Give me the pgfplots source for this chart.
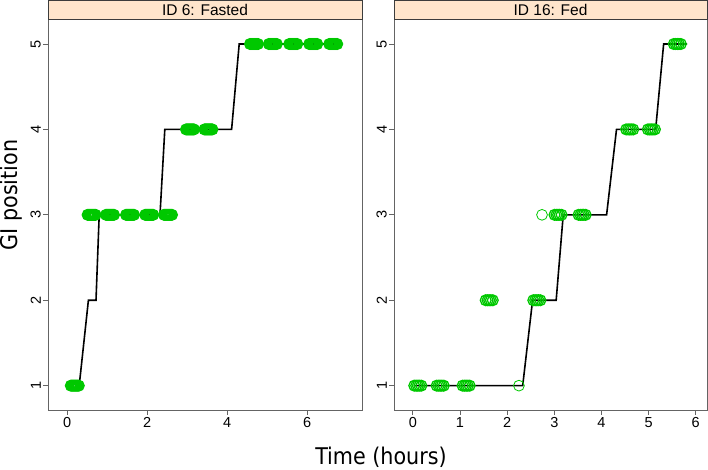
\documentclass[border=0pt]{standalone}
\usepackage{fontspec}
\setmainfont{Liberation Sans}
\newfontfamily\titlefont{DejaVu Sans Condensed}
\usepackage{pgfplots}
\pgfplotsset{compat=1.18}
\definecolor{ptgreen}{RGB}{0,200,0}
\definecolor{stripbg}{RGB}{255,229,204}
\definecolor{framecol}{RGB}{100,100,100}
\definecolor{stripcol}{RGB}{60,60,60}
\pgfplotsset{panel/.style={
  scale only axis, height=390.5pt,
  ymin=0.715, ymax=5.287, ytick={1,2,3,4,5},
  axis line style={framecol, line width=0.8pt},
  tick style={framecol, line width=0.8pt},
  tick align=outside, major tick length=5pt,
  xtick pos=bottom, ytick pos=left,
  yticklabel style={rotate=90, anchor=south, inner sep=2pt, font=\fontsize{14.5}{14.5}\selectfont},
  xticklabel style={inner sep=2pt, font=\fontsize{14.5}{14.5}\selectfont},
  /pgf/number format/assume math mode=true,
}}
\begin{document}
\begin{tikzpicture}
\path[use as bounding box] (-48pt,-60pt) rectangle (660pt,410pt);
\begin{axis}[panel, name=left, at={(0pt,0pt)}, anchor=south west, width=314pt,
  xmin=-0.48, xmax=7.37, xtick={0,2,4,6}]
\addplot[black, line width=1.6pt] coordinates {(0.19,1) (0.30,1) (0.53,2) (0.72,2) (0.80,3) (2.32,3) (2.44,4) (4.11,4) (4.30,5) (6.72,5)};
\addplot[only marks, mark=o, mark size=5.2pt, mark options={ptgreen, line width=1.6pt}] table {
x y
0.09 1
0.115 1
0.14 1
0.165 1
0.19 1
0.215 1
0.24 1
0.265 1
0.29 1
0.51 3
0.535 3
0.56 3
0.585 3
0.61 3
0.635 3
0.66 3
0.685 3
0.71 3
0.97 3
0.995 3
1.02 3
1.045 3
1.07 3
1.095 3
1.12 3
1.145 3
1.17 3
1.47 3
1.495 3
1.52 3
1.545 3
1.57 3
1.595 3
1.62 3
1.645 3
1.67 3
1.95 3
1.975 3
2.00 3
2.025 3
2.05 3
2.075 3
2.10 3
2.125 3
2.15 3
2.42 3
2.445 3
2.47 3
2.495 3
2.52 3
2.545 3
2.57 3
2.595 3
2.62 3
2.97 4
2.995 4
3.02 4
3.045 4
3.07 4
3.095 4
3.12 4
3.145 4
3.17 4
3.43 4
3.455 4
3.48 4
3.505 4
3.53 4
3.555 4
3.58 4
3.605 4
3.63 4
4.57 5
4.595 5
4.62 5
4.645 5
4.67 5
4.695 5
4.72 5
4.745 5
4.77 5
5.04 5
5.065 5
5.09 5
5.115 5
5.14 5
5.165 5
5.19 5
5.215 5
5.24 5
5.55 5
5.575 5
5.60 5
5.625 5
5.65 5
5.675 5
5.70 5
5.725 5
5.75 5
6.05 5
6.075 5
6.10 5
6.125 5
6.15 5
6.175 5
6.20 5
6.225 5
6.25 5
6.55 5
6.575 5
6.60 5
6.625 5
6.65 5
6.675 5
6.70 5
6.725 5
6.75 5
};
\end{axis}
\begin{axis}[panel, name=right, at={(346pt,0pt)}, anchor=south west, width=313pt,
  xmin=-0.40, xmax=6.24, xtick={0,1,2,3,4,5,6}]
\addplot[black, line width=1.6pt] coordinates {(0.03,1) (2.33,1) (2.54,2) (3.04,2) (3.19,3) (4.11,3) (4.32,4) (5.15,4) (5.32,5) (5.82,5)};
\addplot[only marks, mark=o, mark size=5.4pt, mark options={ptgreen, line width=1.3pt}] table {
x y
0.03 1
0.07 1
0.105 1
0.14 1
0.18 1
0.505 1
0.545 1
0.58 1
0.615 1
0.655 1
1.055 1
1.095 1
1.13 1
1.165 1
1.205 1
1.545 2
1.585 2
1.62 2
1.655 2
1.695 2
2.555 2
2.595 2
2.63 2
2.665 2
2.705 2
3.005 3
3.045 3
3.08 3
3.115 3
3.155 3
3.515 3
3.555 3
3.59 3
3.625 3
3.665 3
4.525 4
4.565 4
4.60 4
4.635 4
4.675 4
4.985 4
5.025 4
5.06 4
5.095 4
5.135 4
5.535 5
5.575 5
5.61 5
5.645 5
5.685 5
};
\addplot[only marks, mark=o, mark size=5.4pt, mark options={ptgreen, line width=0.8pt}] coordinates {(2.25,1) (2.74,3)};
\end{axis}
\draw[draw=stripcol, fill=stripbg, line width=0.8pt] (left.north west) rectangle ++(314pt,19.5pt);
\draw[draw=stripcol, fill=stripbg, line width=0.8pt] (right.north west) rectangle ++(313pt,19.5pt);
\node[font=\fontsize{15.5}{15.5}\selectfont] at ([yshift=9.75pt]left.north) {ID 6: Fasted};
\node[font=\fontsize{15.5}{15.5}\selectfont] at ([yshift=9.75pt]right.north) {ID 16: Fed};
\node[font=\titlefont\fontsize{23}{23}\selectfont, anchor=base] at (333pt,-55pt) {Time (hours)};
\node[font=\titlefont\fontsize{23}{23}\selectfont, anchor=base, rotate=90] at (-30pt,215pt) {GI position};
\end{tikzpicture}
\end{document}
